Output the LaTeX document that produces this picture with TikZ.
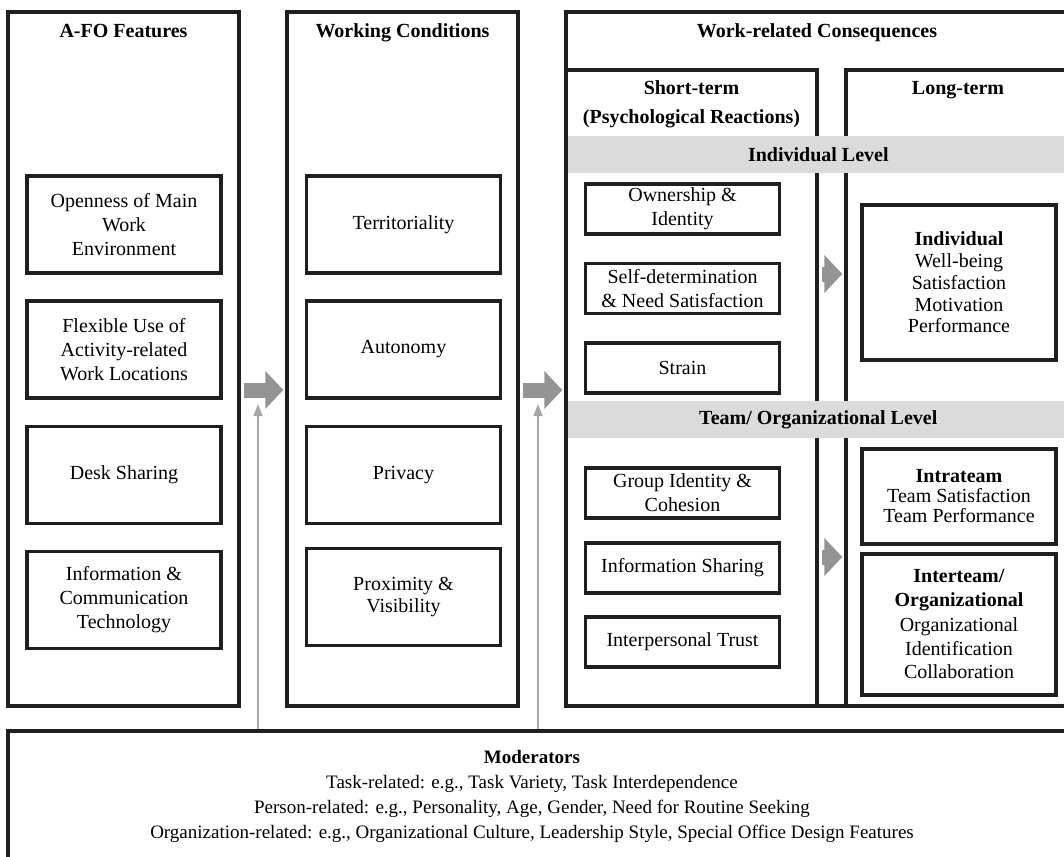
\documentclass[tikz,border=0pt]{standalone}
\usepackage{fontspec}
\setmainfont{Liberation Serif}
\usetikzlibrary{arrows.meta}
\def\boxw{97pt}
\def\boxh{48.5pt}

\begin{document}
\begin{tikzpicture}[x=0.5pt, y=-0.5pt, font=\fontsize{10}{12}\selectfont]
  \tikzstyle{frame}=[draw=black!88, line width=1.7pt, inner sep=0pt]
  \tikzstyle{factor}=[frame, align=center, minimum width=\boxw, minimum height=\boxh]
  \tikzstyle{reaction}=[factor, minimum height=25pt]
  \tikzstyle{title}=[font=\fontsize{10}{12}\selectfont\bfseries, align=center, text height=7pt, text depth=2pt]
  \tikzstyle{band}=[fill=black!14, inner sep=0pt, minimum height=18.5pt, minimum width=250.3pt, anchor=west, font=\fontsize{10}{12}\selectfont\bfseries]
  \tikzstyle{bigarrow}=[draw=black!42, line width=7.5pt, -{Triangle[width=18.5pt,length=9pt]}, shorten <=1.5pt, shorten >=1pt]
  \tikzstyle{modarrow}=[draw=black!35, line width=0.8pt, -{Triangle[width=4.5pt,length=6pt]}]

  \useasboundingbox (0,0) rectangle (1064,856);
  \clip (0,0) rectangle (1064,856);

  % main columns
  \node[frame, minimum width=115.5pt, minimum height=347pt] (afo) at (123.5,359) {};
  \node[frame, minimum width=115.5pt, minimum height=347pt] (cond) at (402.5,359) {};
  \node[frame, minimum width=251pt, minimum height=347pt] (cons) at (817,359) {};
  \node[frame, minimum width=125.5pt, minimum height=318pt] (short) at (691.5,388) {};
  \node[frame, minimum width=111pt, minimum height=318pt] (long) at (957,388) {};

  \node[title] (afotitle) at (123.5,33) {A-FO Features};
  \node[title] (condtitle) at (402.5,33) {Working Conditions};
  \node[title] (constitle) at (817,33) {Work-related Consequences};
  \node[title, text height=, text depth=] (shorttitle) at (691.5,104.5) {Short-term\\[2.5pt](Psychological Reactions)};
  \node[title] (longtitle) at (958,90) {Long-term};

  % level bands
  \node[band] (indlevel) at (567.6,154.5) {Individual Level};
  \node[band] (teamlevel) at (567.6,419.5) {Team/ Organizational Level};

  \foreach \name / \y / \txt in {open/224.5/Openness of Main\\Work\\Environment,
      flex/349.5/Flexible Use of\\Activity-related\\Work Locations,
      desk/475/Desk Sharing,
      ict/600/Information \&\\Communication\\Technology}
    \node[factor] (\name) at (124,\y) {\txt};

  \foreach \name / \y / \txt in {terr/224.5/Territoriality, auto/349.5/Autonomy,
      priv/475/Privacy, prox/597/{Proximity \&\\[-1pt]Visibility}}
    \node[factor] (\name) at (403.5,\y) {\txt};

  \foreach \name / \y / \txt in {own/209/Ownership \&\\Identity,
      self/288.5/Self-determination\\\& Need Satisfaction,
      strain/368/Strain, group/493/Group Identity \&\\Cohesion,
      info/568/Information Sharing, trust/642/Interpersonal Trust}
    \node[reaction] (\name) at (682.5,\y) {\txt};

  \node[factor, minimum height=77.5pt, font=\fontsize{10}{10.9}\selectfont] (indiv) at (959,282.5)
    {\textbf{Individual}\\Well-being\\Satisfaction\\Motivation\\Performance};
  \node[factor, minimum height=47.5pt, font=\fontsize{10}{10}\selectfont] (intra) at (959,496.5)
    {\textbf{Intrateam}\\Team Satisfaction\\Team Performance};
  \node[factor, minimum height=70.5pt] (inter) at (959,624.5)
    {\textbf{Interteam/}\\\textbf{Organizational}\\Organizational\\Identification\\Collaboration};

  % moderators
  \node[frame, minimum width=531pt, minimum height=74.5pt] (mod) at (539,805.5) {};
  \node[align=center, font=\fontsize{9.5}{12.5}\selectfont] (modtext) at (532,796)
    {\textbf{Moderators}\\Task-related: e.g., Task Variety, Task Interdependence\\
     Person-related: e.g., Personality, Age, Gender, Need for Routine Seeking\\
     Organization-related: e.g., Organizational Culture, Leadership Style, Special Office Design Features};

  % arrows
  \draw[bigarrow] ([yshift=-15.5pt]afo.east) -- ([yshift=-15.5pt]cond.west);
  \draw[bigarrow] ([yshift=-15.5pt]cond.east) -- ([yshift=-15.5pt]cons.west);
  \draw[bigarrow] ([yshift=57pt]short.east) -- ([yshift=57pt]long.west);
  \draw[bigarrow] ([yshift=-84.5pt]short.east) -- ([yshift=-84.5pt]long.west);

  \coordinate (m1) at (258,404);
  \coordinate (m2) at (538,404);
  \draw[modarrow] (mod.north -| m1) -- (m1);
  \draw[modarrow] (mod.north -| m2) -- (m2);
\end{tikzpicture}
\end{document}
